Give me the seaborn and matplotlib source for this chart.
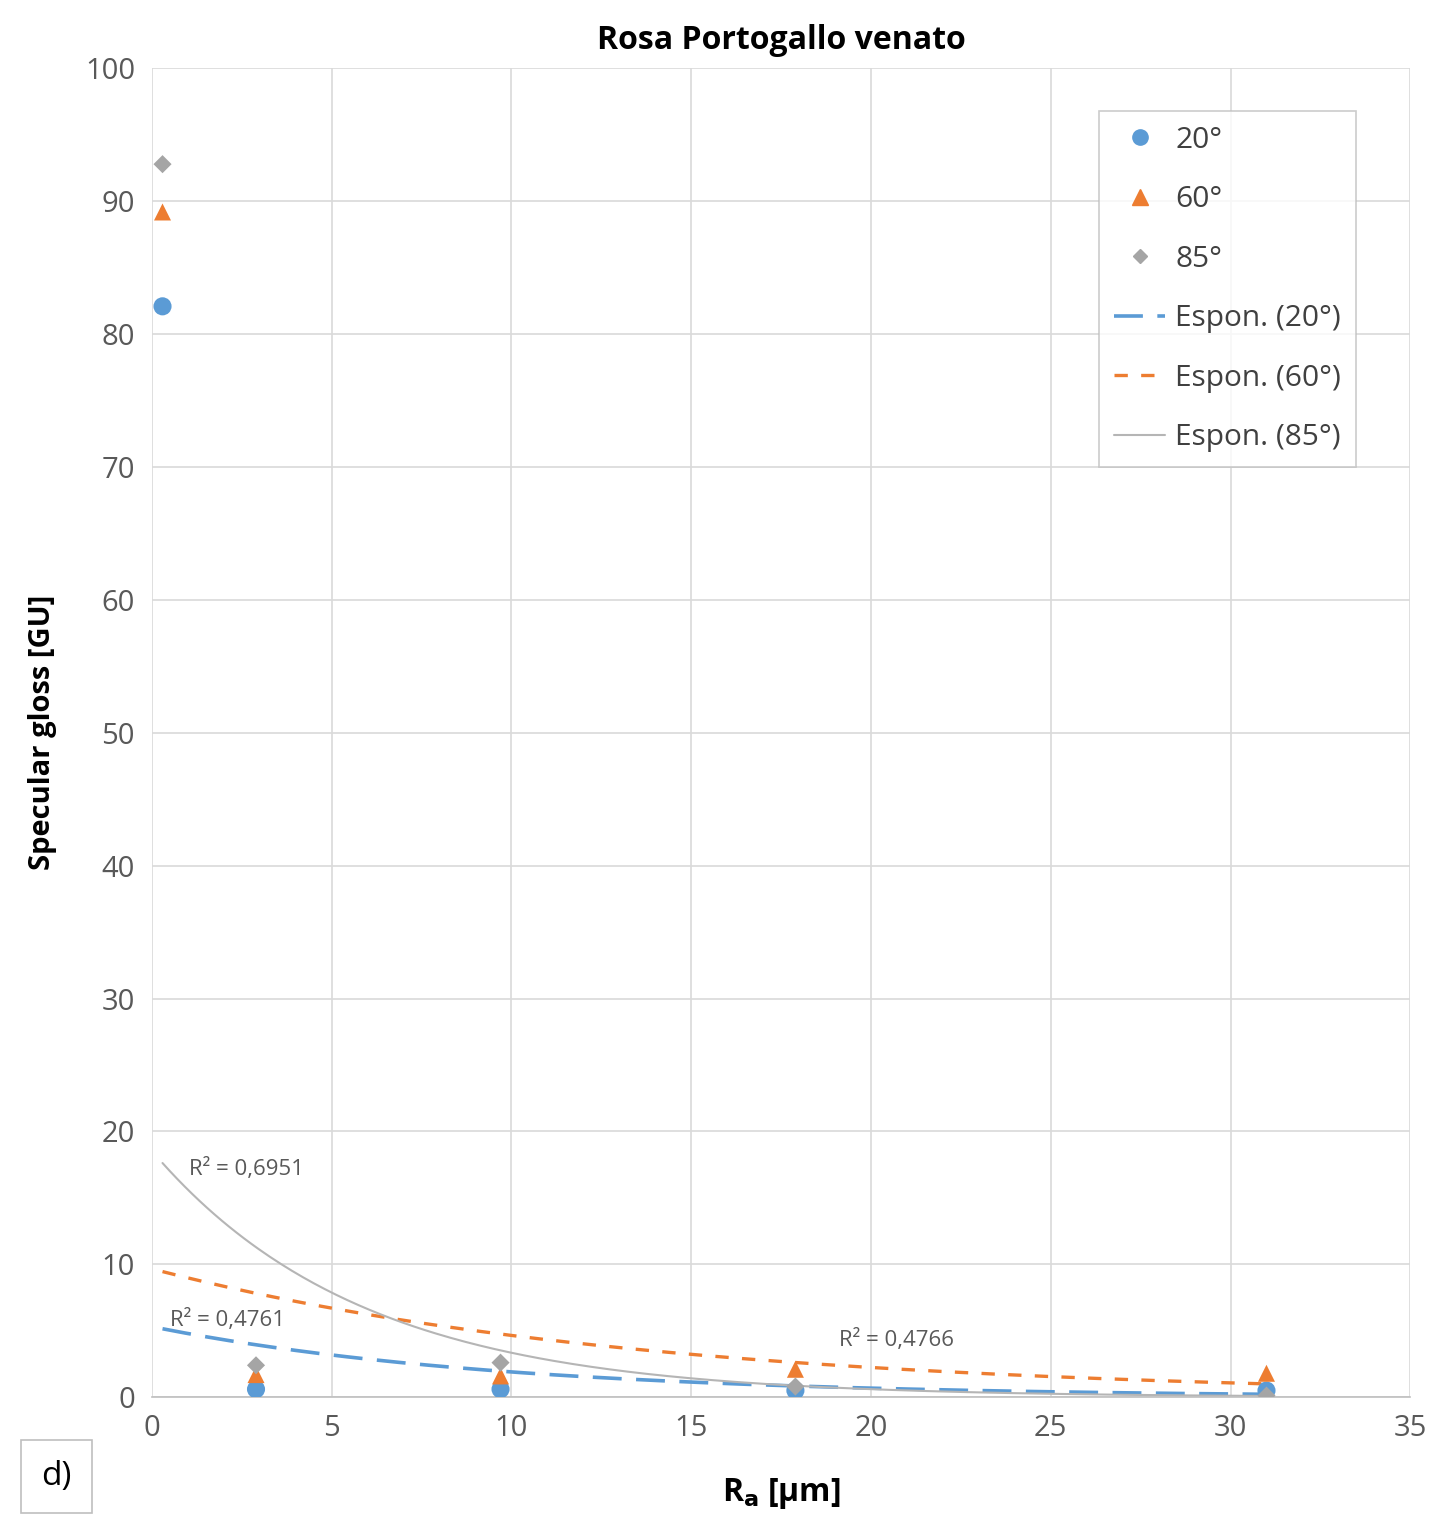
import numpy as np
import pandas as pd
import matplotlib
matplotlib.use("Agg")
import matplotlib.pyplot as plt
import seaborn as sns
from matplotlib.lines import Line2D

# ---- data ----
ra = [0.3, 2.9, 9.7, 17.9, 31.0]
gloss_20 = [82.1, 0.6, 0.6, 0.5, 0.5]
gloss_60 = [89.2, 1.7, 1.6, 2.1, 1.8]
gloss_85 = [92.8, 2.4, 2.6, 0.8, 0.12]
angles = ["20°", "60°", "85°"]
r2_labels = ["R² = 0,4761", "R² = 0,4766", "R² = 0,6951"]

title = "Rosa Portogallo venato"
xlabel = "R$_\\mathbf{a}$ [µm]"
ylabel = "Specular gloss [GU]"

colors = {"20°": "#5B9BD5", "60°": "#ED7D31", "85°": "#A5A5A5"}
markers = {"20°": "o", "60°": "^", "85°": "D"}
msize = {"20°": 170, "60°": 150, "85°": 85}

df = pd.DataFrame({
    "Ra": ra * 3,
    "gloss": gloss_20 + gloss_60 + gloss_85,
    "angle": [a for a in angles for _ in ra],
})

sns.set_theme(style="whitegrid")
plt.rcParams["font.family"] = ["Open Sans", "DejaVu Sans"]

fig = plt.figure(figsize=(14.45, 15.22), dpi=100)
ax = fig.add_axes([0.105, 0.082, 0.871, 0.873])

# exponential trend lines (Excel-style: fit ln(y) linearly)
xs = np.linspace(min(ra), max(ra), 300)
line_styles = {"20°": dict(ls=(0, (8, 4)), lw=2.6),
               "60°": dict(ls=(0, (4, 4)), lw=2.4),
               "85°": dict(ls="-", lw=1.5)}
line_colors = {"20°": "#5B9BD5", "60°": "#ED7D31", "85°": "#B5B5B5"}
for a, vals in zip(angles, [gloss_20, gloss_60, gloss_85]):
    b, lnA = np.polyfit(ra, np.log(vals), 1)
    ax.plot(xs, np.exp(lnA) * np.exp(b * xs), color=line_colors[a], zorder=2,
            **line_styles[a])

for a in angles:
    sns.scatterplot(data=df[df["angle"] == a], x="Ra", y="gloss",
                    color=colors[a], marker=markers[a], s=msize[a],
                    edgecolor="none", legend=False, ax=ax, zorder=3)

ax.set_xlim(0, 35)
ax.set_ylim(0, 100)
ax.set_xticks(np.arange(0, 36, 5))
ax.set_yticks(np.arange(0, 101, 10))
ax.tick_params(axis="both", labelsize=21, colors="#595959", length=0, pad=12)
ax.grid(True, color="#D9D9D9", lw=1.2)
for s in ["top", "right", "left"]:
    ax.spines[s].set_visible(False)
ax.spines["bottom"].set_visible(True)
ax.spines["bottom"].set_color("#BFBFBF")
ax.spines["bottom"].set_linewidth(1.2)

ax.set_title(title, fontsize=23, fontweight="bold", color="#000000", pad=14)
ax.set_xlabel(xlabel, fontsize=23, fontweight="bold", color="#000000", labelpad=24)
ax.set_ylabel(ylabel, fontsize=21, fontweight="bold", color="#000000", labelpad=20)

# R² annotations
ax.text(1.05, 17.2, r2_labels[2], fontsize=16, color="#595959", va="center")
ax.text(0.5, 5.8, r2_labels[0], fontsize=16, color="#595959", va="center")
ax.text(19.1, 4.3, r2_labels[1], fontsize=16, color="#595959", va="center")

handles = [
    Line2D([], [], ls="none", marker="o", color=colors["20°"], markersize=11),
    Line2D([], [], ls="none", marker="^", color=colors["60°"], markersize=11),
    Line2D([], [], ls="none", marker="D", color=colors["85°"], markersize=7),
    Line2D([], [], color=line_colors["20°"], **line_styles["20°"]),
    Line2D([], [], color=line_colors["60°"], **line_styles["60°"]),
    Line2D([], [], color=line_colors["85°"], **line_styles["85°"]),
]
labels = ["20°", "60°", "85°", "Espon. (20°)", "Espon. (60°)", "Espon. (85°)"]
leg = ax.legend(handles, labels, loc="upper right", bbox_to_anchor=(0.957, 0.968),
                fontsize=21.5, frameon=True, fancybox=False, labelspacing=1.02,
                handlelength=1.7, handletextpad=0.35, borderpad=0.5,
                borderaxespad=0, labelcolor="#404040")
leg.get_frame().set_edgecolor("#BFBFBF")
leg.get_frame().set_linewidth(1.2)

fig.text(0.039, 0.03, "d)", fontsize=24, color="#000000", va="center", ha="center",
         bbox=dict(boxstyle="square,pad=0.6", fc="white", ec="#BFBFBF", lw=1.2))

fig.savefig("out.png", dpi=100, facecolor="white")
